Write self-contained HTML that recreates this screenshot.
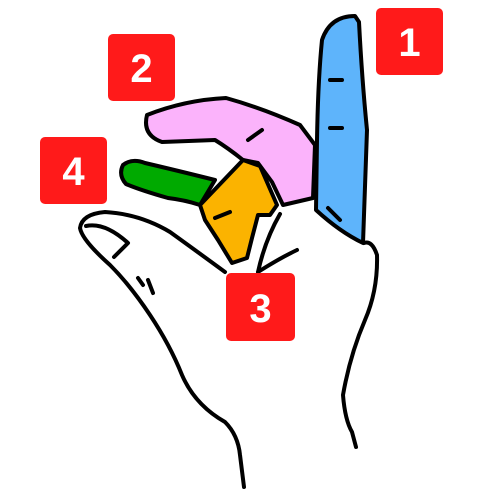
<!DOCTYPE html>
<html><head><meta charset="utf-8"><style>
html,body{margin:0;padding:0;background:#fff;width:500px;height:500px;overflow:hidden}
svg{display:block}
text{font-family:"Liberation Sans",sans-serif;font-weight:bold;fill:#fff;font-size:40px}
</style></head><body>
<svg width="500" height="500" viewBox="0 0 500 500">
<path fill="#fff" d="M86,222 Q100,210 140,220 Q190,250 225,270 L262,235 L280,215 L316,210 L363,243 Q378,240 378,270 Q370,320 345,360 Q340,420 356,447 L244,487 Q240,440 200,410 Q170,350 130,290 Q100,260 86,240 Z"/>
<g stroke="#000" stroke-width="4" stroke-linejoin="round" stroke-linecap="round" fill="none">
<path d="M225,272 Q195,250 170,232 Q140,214 105,212 Q82,214 80,228 Q82,240 110,265 Q130,285 150,315 Q170,345 182,375 Q195,405 225,422 Q238,435 240,455 L244,487"/>
<path d="M364,243 Q372,240 377,255 Q378,290 365,320 Q350,355 343,395 Q345,420 352,432 L356,447"/>
<path d="M86,226 Q105,222 128,243 L114,257"/>
<path d="M280,214 Q265,240 258,272 M258,272 Q280,258 297,250 M138,278 L143,285 M148,280 L153,293"/>
</g>
<g stroke="#000" stroke-width="4" stroke-linejoin="round" stroke-linecap="round">
<path fill="#5eb4fb" d="M322,40 Q330,16 355,16 L359,22 Q362,80 367,130 L363,243 Q340,232 316,210 L317,140 Q318,80 322,40 Z"/>
<path fill="#fbb3fb" d="M147,115 Q185,100 226,98 Q262,108 300,125 L315,145 L313,198 L283,205 L272,182 L258,163 L243,160 Q228,148 215,140 L162,142 Q142,135 147,115 Z"/>
<path fill="#00aa00" d="M123,165 Q132,158 145,163 Q175,170 215,180 L200,205 Q185,200 168,198 Q140,190 126,184 Q118,175 123,165 Z"/>
<path fill="#fbb300" d="M200,205 L243,160 L260,166 L277,205 L270,215 L258,215 L252,238 L247,258 L232,263 L218,240 L205,220 Z"/>
<path fill="none" d="M330,80 L342,80 M330,128 L342,128 M328,208 L340,220 M215,218 L230,212 M248,140 L262,130"/>
</g>
<g><rect x="376" y="8" width="67" height="67" rx="5" fill="#ff1a1a"/><text x="409.5" y="56" text-anchor="middle">1</text></g>
<g><rect x="108" y="34" width="67" height="67" rx="5" fill="#ff1a1a"/><text x="141.5" y="82" text-anchor="middle">2</text></g>
<g><rect x="40" y="137" width="67" height="67" rx="5" fill="#ff1a1a"/><text x="73.5" y="185" text-anchor="middle">4</text></g>
<g><rect x="226" y="273" width="69" height="68" rx="5" fill="#ff1a1a"/><text x="260.5" y="322" text-anchor="middle">3</text></g>
</svg>
</body></html>
